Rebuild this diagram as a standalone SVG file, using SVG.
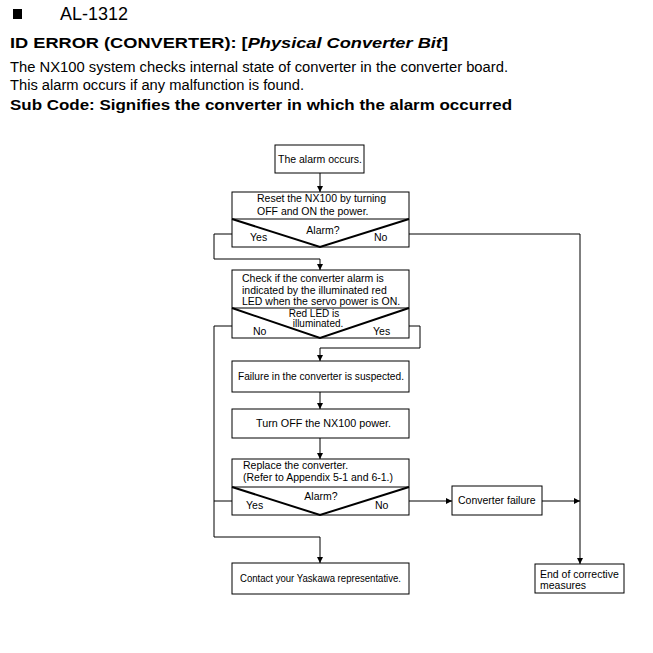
<svg xmlns="http://www.w3.org/2000/svg" width="653" height="653" viewBox="0 0 653 653">
<style>
text{font-family:"Liberation Sans",Arial,sans-serif;fill:#000}
.f{font-size:10.5px}
.s{font-size:10px}
.box{fill:#fff;stroke:#000;stroke-width:1}
.v{fill:none;stroke:#000;stroke-width:2}
.c{fill:none;stroke:#000;stroke-width:1}
.m{text-anchor:middle}
</style>
<defs>
<marker id="ah" markerWidth="6" markerHeight="6" refX="6" refY="3" orient="auto" markerUnits="userSpaceOnUse">
<path d="M0,0 L6,3 L0,6 z" fill="#000"/>
</marker>
</defs>
<rect width="653" height="653" fill="#fff"/>
<g id="header">
<rect x="13" y="9" width="9" height="10" fill="#000"/>
<text x="60" y="20" font-size="18">AL-1312</text>
<text x="10" y="48" font-size="15.5" font-weight="bold" textLength="438" lengthAdjust="spacingAndGlyphs">ID ERROR (CONVERTER): [<tspan font-style="italic">Physical Converter Bit</tspan>]</text>
<text x="10" y="72" font-size="14" textLength="498" lengthAdjust="spacingAndGlyphs">The NX100 system checks internal state of converter in the converter board.</text>
<text x="10" y="90" font-size="14" textLength="294" lengthAdjust="spacingAndGlyphs">This alarm occurs if any malfunction is found.</text>
<text x="10" y="110" font-size="14.5" font-weight="bold" textLength="502" lengthAdjust="spacingAndGlyphs">Sub Code: Signifies the converter in which the alarm occurred</text>
</g>
<g id="connectors">
<path class="c" d="M320,173 V192" marker-end="url(#ah)"/>
<path class="c" d="M232,234 H214 V259 H320 V270" marker-end="url(#ah)"/>
<path class="c" d="M409,234 H580 V564" marker-end="url(#ah)"/>
<path class="c" d="M232,326 H214 V537 H320 V563" marker-end="url(#ah)"/>
<path class="c" d="M409,326 H420 V348 H320 V361" marker-end="url(#ah)"/>
<path class="c" d="M320,392 V409" marker-end="url(#ah)"/>
<path class="c" d="M320,438 V459" marker-end="url(#ah)"/>
<path class="c" d="M232,501 H214"/>
<path class="c" d="M409,501 H452" marker-end="url(#ah)"/>
<path class="c" d="M542,501 H580" marker-end="url(#ah)"/>
</g>
<g id="n1">
<rect class="box" x="275" y="145" width="89" height="28"/>
<text class="f m" x="320" y="163">The alarm occurs.</text>
</g>
<g id="n2">
<rect class="box" x="232" y="192" width="177" height="55"/>
<path class="v" d="M232,219 L320,247 L409,219"/>
<line class="c" x1="232" y1="219" x2="409" y2="219"/>
<text class="f" x="257" y="202">Reset the NX100 by turning</text>
<text class="f" x="257" y="215">OFF and ON the power.</text>
<text class="f m" x="323" y="234">Alarm?</text>
<text class="f" x="250" y="241">Yes</text>
<text class="f" x="374" y="241">No</text>
</g>
<g id="n3">
<rect class="box" x="232" y="270" width="177" height="68"/>
<path class="v" d="M232,308 L320,338 L409,308"/>
<line class="c" x1="232" y1="308" x2="409" y2="308"/>
<text class="f" x="242" y="282">Check if the converter alarm is</text>
<text class="f" x="242" y="294">indicated by the illuminated red</text>
<text class="f" x="242" y="305">LED when the servo power is ON.</text>
<text class="s m" x="314" y="317">Red LED is</text>
<text class="s m" x="318" y="327">illuminated.</text>
<text class="f" x="253" y="335">No</text>
<text class="f" x="373" y="335">Yes</text>
</g>
<g id="n4">
<rect class="box" x="232" y="361" width="177" height="31"/>
<text class="f" x="238" y="380" textLength="166" lengthAdjust="spacingAndGlyphs">Failure in the converter is suspected.</text>
</g>
<g id="n5">
<rect class="box" x="232" y="409" width="177" height="29"/>
<text class="f" x="256" y="427" textLength="135" lengthAdjust="spacingAndGlyphs">Turn OFF the NX100 power.</text>
</g>
<g id="n6">
<rect class="box" x="232" y="459" width="177" height="56"/>
<path class="v" d="M232,487 L320,515 L409,487"/>
<line class="c" x1="232" y1="487" x2="409" y2="487"/>
<text class="f" x="243" y="469">Replace the converter.</text>
<text class="f" x="243" y="481">(Refer to Appendix 5-1 and 6-1.)</text>
<text class="f m" x="321" y="500">Alarm?</text>
<text class="f" x="246" y="509">Yes</text>
<text class="f" x="375" y="509">No</text>
</g>
<g id="n7">
<rect class="box" x="452" y="486" width="90" height="29"/>
<text class="f" x="458" y="504">Converter failure</text>
</g>
<g id="n8">
<rect class="box" x="232" y="563" width="177" height="31"/>
<text class="f" x="240" y="582" textLength="161" lengthAdjust="spacingAndGlyphs">Contact your Yaskawa representative.</text>
</g>
<g id="n9">
<rect class="box" x="535" y="564" width="89" height="29"/>
<text class="f" x="540" y="578">End of corrective</text>
<text class="f" x="540" y="589">measures</text>
</g>
</svg>
